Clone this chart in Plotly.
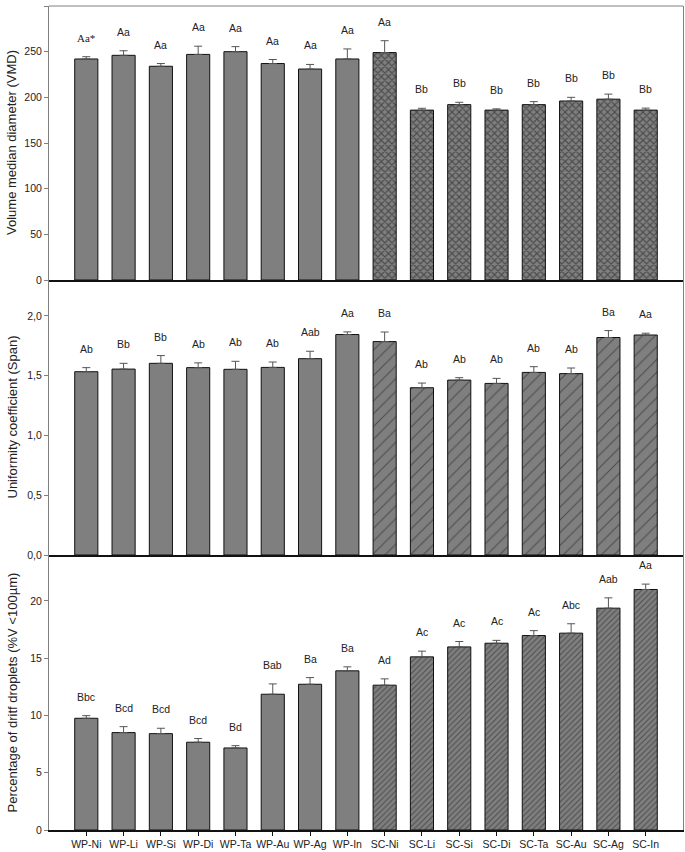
import plotly.graph_objects as go
from plotly.subplots import make_subplots

categories = ["WP-Ni", "WP-Li", "WP-Si", "WP-Di", "WP-Ta", "WP-Au", "WP-Ag", "WP-In",
              "SC-Ni", "SC-Li", "SC-Si", "SC-Di", "SC-Ta", "SC-Au", "SC-Ag", "SC-In"]

vmd = [242, 246, 234, 247, 250, 237, 231, 242, 249, 186, 192, 186, 192, 196, 198, 186]
vmd_err = [2.5, 5, 3, 9, 5.5, 4.4, 5, 11, 13, 2, 2.6, 1.4, 3.3, 4, 5.5, 2.2]
vmd_letters = ["Aa*", "Aa", "Aa", "Aa", "Aa", "Aa", "Aa", "Aa",
               "Aa", "Bb", "Bb", "Bb", "Bb", "Bb", "Bb", "Bb"]

span = [1.533, 1.555, 1.603, 1.567, 1.553, 1.569, 1.642, 1.844,
        1.785, 1.399, 1.463, 1.435, 1.527, 1.517, 1.819, 1.840]
span_err = [0.034, 0.048, 0.065, 0.04, 0.067, 0.045, 0.062, 0.022,
            0.08, 0.039, 0.02, 0.042, 0.048, 0.047, 0.058, 0.015]
span_letters = ["Ab", "Bb", "Bb", "Ab", "Ab", "Ab", "Aab", "Aa",
                "Ba", "Ab", "Ab", "Ab", "Ab", "Ab", "Ba", "Aa"]

drift = [9.75, 8.5, 8.41, 7.66, 7.16, 11.85, 12.72, 13.89,
         12.64, 15.11, 15.98, 16.3, 16.97, 17.18, 19.36, 20.99]
drift_err = [0.23, 0.52, 0.47, 0.32, 0.2, 0.9, 0.58, 0.35,
             0.55, 0.5, 0.47, 0.25, 0.43, 0.82, 0.9, 0.47]
drift_letters = ["Bbc", "Bcd", "Bcd", "Bcd", "Bd", "Bab", "Ba", "Ba",
                 "Ad", "Ac", "Ac", "Ac", "Ac", "Abc", "Aab", "Aa"]

y_titles = ["Volume median diameter (VMD)",
            "Uniformity coefficient (Span)",
            "Percentage of dritf droplets (%V <100µm)"]

BAR = "#7f7f7f"
FONT = "Liberation Sans, Arial, sans-serif"

fig = make_subplots(rows=3, cols=1, shared_xaxes=True, vertical_spacing=0)

panels = [
    (vmd, vmd_err, vmd_letters, "x", 5, 0.42),
    (span, span_err, span_letters, "/", 9, 0.12),
    (drift, drift_err, drift_letters, "/", 4, 0.25),
]

for i, (vals, errs, letters, shp, psize, sol) in enumerate(panels):
    row = i + 1
    shapes = ["" if c.startswith("WP") else shp for c in categories]
    fig.add_trace(go.Bar(
        x=categories, y=vals,
        width=0.62,
        marker=dict(color=BAR, line=dict(color="#111111", width=1),
                    pattern=dict(shape=shapes, fgcolor="#1a1a1a", bgcolor=BAR,
                                 size=psize, solidity=sol)),
        error_y=dict(type="data", array=errs, arrayminus=[0] * len(errs), symmetric=False,
                     color="#555555", thickness=1, width=4),
        showlegend=False,
    ), row=row, col=1)
    yref = "y" if row == 1 else f"y{row}"
    xref = "x" if row == 1 else f"x{row}"
    for c, v, e, t in zip(categories, vals, errs, letters):
        fnt = dict(size=10.5, color="#222222", family=FONT)
        if t.endswith("*"):
            fnt = dict(size=11, color="#222222", family="Liberation Serif, Times New Roman, serif")
        fig.add_annotation(x=c, y=v + e, xref=xref, yref=yref, text=t, showarrow=False,
                           yanchor="middle", yshift=19, font=fnt)

H_PLOT = 824
d1 = [550 / H_PLOT, 1.0]
d2 = [275 / H_PLOT, 550 / H_PLOT]
d3 = [0.0, 275 / H_PLOT]

yaxis_common = dict(showline=True, linecolor="#808080", linewidth=1, mirror=True,
                    showgrid=False, zeroline=False, ticks="outside", ticklen=4,
                    tickcolor="#808080", tickfont=dict(size=10.5, color="#222222", family=FONT))
fig.update_layout(
    yaxis=dict(domain=d1, range=[0, 300], tickvals=[0, 50, 100, 150, 200, 250, 300], **yaxis_common),
    yaxis2=dict(domain=d2, range=[0, 2.3], tickvals=[0, 0.5, 1.0, 1.5, 2.0], tickformat=".1f", **yaxis_common),
    yaxis3=dict(domain=d3, range=[0, 24], tickvals=[0, 5, 10, 15, 20], **yaxis_common),
)
xaxis_common = dict(showline=True, linecolor="#111111", linewidth=1.5, showgrid=False,
                    zeroline=False, range=[-1, 16])
fig.update_xaxes(**xaxis_common)
fig.update_xaxes(ticks="", row=1, col=1)
fig.update_xaxes(ticks="", row=2, col=1)
fig.update_xaxes(ticks="outside", ticklen=4, tickcolor="#111111",
                 tickfont=dict(size=10.5, color="#222222", family=FONT), row=3, col=1)

# y-axis titles as annotations
centers = [(d1[0] + d1[1]) / 2, (d2[0] + d2[1]) / 2, (d3[0] + d3[1]) / 2]
for t, yc in zip(y_titles, centers):
    fig.add_annotation(x=(12 - 49) / 634, y=yc, xref="paper", yref="paper", text=t,
                       textangle=-90, showarrow=False, xanchor="center", yanchor="middle",
                       font=dict(size=13, color="#222222", family=FONT))

# top border of upper panel
fig.add_shape(type="line", xref="paper", yref="paper", x0=0, x1=1, y0=1, y1=1,
              line=dict(color="#808080", width=1))

fig.update_layout(
    width=685, height=852,
    margin=dict(l=49, r=2, t=6, b=22),
    plot_bgcolor="white", paper_bgcolor="white",
    separators=",.",
    bargap=0.38,
    font=dict(family=FONT, color="#222222"),
)

fig.write_html("out.html",
               config={"displayModeBar": False},
               post_script="document.body.style.margin='0';document.body.style.overflow='hidden';")
